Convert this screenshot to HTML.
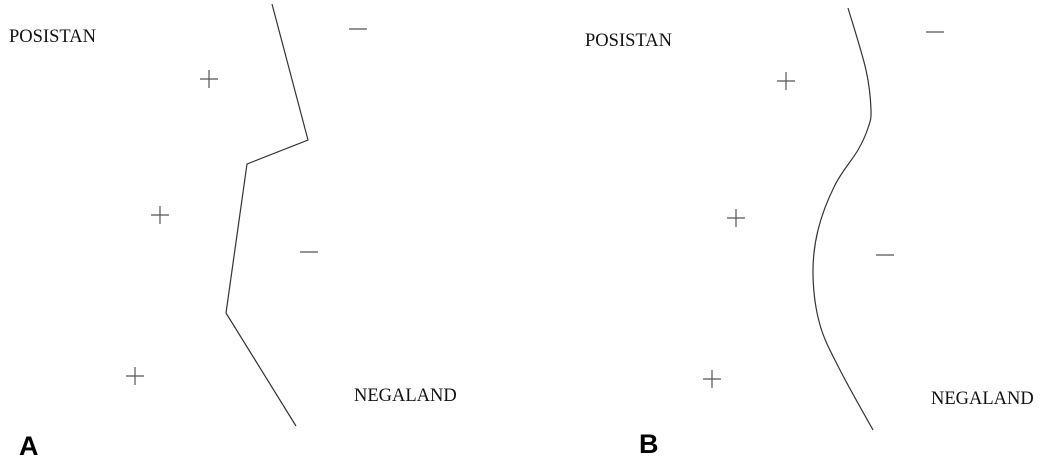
<!DOCTYPE html>
<html><head><meta charset="utf-8"><style>
html,body{margin:0;padding:0;background:#fff;width:1045px;height:464px;overflow:hidden}
svg{display:block}
.lbl{font-family:"Liberation Serif",serif;font-size:18.5px;fill:#111}
.pan{font-family:"Liberation Sans",sans-serif;font-size:27px;font-weight:bold;fill:#000}
</style></head><body>
<svg id="fig" width="1045" height="464">
<g>
<text class="lbl" x="9" y="42">POSISTAN</text>
<text class="lbl" x="354" y="401">NEGALAND</text>
<text class="pan" x="19" y="455">A</text>
</g>
<g>
<text class="lbl" x="585" y="46">POSISTAN</text>
<text class="lbl" x="931" y="404">NEGALAND</text>
<text class="pan" x="639" y="453">B</text>
</g>
</svg>
<script>
const boundaryAX=[272,308,247,226,296];
const boundaryAY=[4,140,164,313,426];
const boundaryBX=[848,866,871,868,858,835,818,813,820,840,873];
const boundaryBY=[8,70,110,128,150,185,230,275,325,370,430];
const plusAX=[209,160,135];
const plusAY=[79,215,376];
const minusAX=[358,309];
const minusAY=[29,252];
const plusBX=[786,736,712];
const plusBY=[81,218,379];
const minusBX=[935,885];
const minusBY=[32,255];
const NS="http://www.w3.org/2000/svg";
const svg=document.getElementById('fig');
function mk(tag,attrs){const e=document.createElementNS(NS,tag);for(const k in attrs)e.setAttribute(k,attrs[k]);svg.appendChild(e);return e;}
let pa=mk('polyline',{points:boundaryAX.map((x,i)=>x+','+boundaryAY[i]).join(' '),fill:'none',stroke:'#333','stroke-width':1.2});


function smooth(xs,ys){let d='M'+xs[0]+','+ys[0];for(let i=0;i<xs.length-1;i++){const x0=xs[Math.max(i-1,0)],y0=ys[Math.max(i-1,0)],x1=xs[i],y1=ys[i],x2=xs[i+1],y2=ys[i+1],x3=xs[Math.min(i+2,xs.length-1)],y3=ys[Math.min(i+2,xs.length-1)];d+=' C'+(x1+(x2-x0)/6)+','+(y1+(y2-y0)/6)+' '+(x2-(x3-x1)/6)+','+(y2-(y3-y1)/6)+' '+x2+','+y2;}return d;}
let pb=mk('path',{d:smooth(boundaryBX,boundaryBY),fill:'none',stroke:'#333','stroke-width':1.2});


function plus(x,y){const g=mk('path',{d:`M${x-9},${y}H${x+9}M${x},${y-9}V${y+9}`,stroke:'#555','stroke-width':1.2,fill:'none'});

}
function minus(x,y){const g=mk('path',{d:`M${x-9},${y}H${x+9}`,stroke:'#555','stroke-width':1.2,fill:'none'});

}
plusAX.forEach((x,i)=>plus(x,plusAY[i]));
minusAX.forEach((x,i)=>minus(x,minusAY[i]));
plusBX.forEach((x,i)=>plus(x,plusBY[i]));
minusBX.forEach((x,i)=>minus(x,minusBY[i]));
</script>
</body></html>
